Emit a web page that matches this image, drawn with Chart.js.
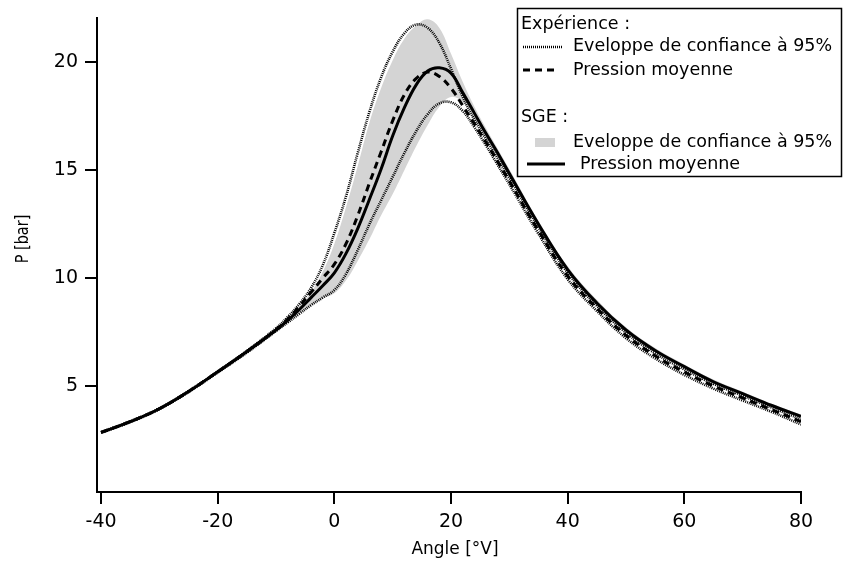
<!DOCTYPE html>
<html>
<head>
<meta charset="utf-8">
<script src="https://cdn.jsdelivr.net/npm/chart.js@4.4.1/dist/chart.umd.min.js"></script>
<style>
  html, body { margin: 0; padding: 0; background: #fff; }
  #wrap { width: 843px; height: 565px; }
</style>
</head>
<body>
<div id="wrap"><canvas id="chart" width="843" height="565"></canvas></div>
<script>
/* ---------- données ---------- */
const ANGLES = [-40, -35, -30, -25, -20, -15, -10, -8, -6, -4, -2, 0, 2, 4, 6, 8, 10, 12, 14, 16, 18,
                20, 22, 24, 26, 28, 30, 35, 40, 45, 50, 55, 60, 65, 70, 75, 80];

// SGE : pression moyenne (trait plein)
const SGE_MEAN  = [2.85, 3.35, 3.95, 4.75, 5.66, 6.6, 7.6, 8.05, 8.55, 9.1, 9.65, 10.25, 11.15, 12.3, 13.65, 15.05, 16.6, 17.9, 18.95, 19.6, 19.75,
                   19.5, 18.6, 17.65, 16.7, 15.8, 14.85, 12.5, 10.4, 8.85, 7.6, 6.65, 5.9, 5.2, 4.65, 4.1, 3.6];
// SGE : enveloppe de confiance (zone grise)
const SGE_UPPER = [2.9, 3.4, 4.0, 4.8, 5.72, 6.68, 7.7, 8.15, 8.7, 9.35, 10.3, 11.6, 13.3, 15.2, 17.2, 18.8, 20.1, 21.1, 21.7, 22.0, 21.6,
                   20.4, 19.1, 17.95, 16.95, 16.0, 15.05, 12.65, 10.55, 9.0, 7.72, 6.76, 6.0, 5.3, 4.74, 4.18, 3.68];
const SGE_LOWER = [2.8, 3.3, 3.9, 4.7, 5.6, 6.52, 7.5, 7.95, 8.35, 8.75, 9.05, 9.3, 9.9, 10.8, 11.8, 12.9, 13.9, 15.0, 16.1, 17.1, 17.95,
                   18.4, 18.15, 17.35, 16.5, 15.6, 14.65, 12.35, 10.25, 8.7, 7.48, 6.54, 5.8, 5.1, 4.56, 4.02, 3.52];
// Expérience : pression moyenne (tirets) et enveloppe (pointillés)
const EXP_MEAN  = [2.85, 3.35, 3.95, 4.75, 5.66, 6.6, 7.62, 8.1, 8.7, 9.35, 10.0, 10.65, 11.6, 12.9, 14.4, 15.85, 17.3, 18.5, 19.25, 19.55, 19.35,
                   18.8, 18.0, 17.15, 16.3, 15.4, 14.5, 12.2, 10.1, 8.6, 7.35, 6.4, 5.65, 5.0, 4.45, 3.9, 3.35];
const EXP_UPPER = [2.87, 3.37, 3.97, 4.77, 5.68, 6.63, 7.68, 8.2, 8.8, 9.55, 10.6, 12.1, 13.8, 15.8, 17.7, 19.3, 20.5, 21.35, 21.75, 21.6, 20.9,
                   19.7, 18.4, 17.35, 16.45, 15.55, 14.65, 12.35, 10.25, 8.72, 7.47, 6.52, 5.77, 5.1, 4.55, 4.0, 3.47];
const EXP_LOWER = [2.83, 3.33, 3.93, 4.72, 5.63, 6.55, 7.55, 7.95, 8.35, 8.75, 9.1, 9.45, 10.2, 11.3, 12.5, 13.6, 14.7, 15.8, 16.8, 17.6, 18.1,
                   18.15, 17.75, 17.0, 16.15, 15.25, 14.35, 12.05, 9.95, 8.48, 7.22, 6.28, 5.52, 4.88, 4.33, 3.8, 3.22];

const X_TICKS = [-40, -20, 0, 20, 40, 60, 80];
const Y_TICKS = [5, 10, 15, 20];

const X_TITLE = 'Angle [°V]';
const Y_TITLE = 'P [bar]';
const LEGEND_EXP = 'Expérience :';
const LEGEND_SGE = 'SGE :';
const LBL_ENV = 'Eveloppe de confiance à 95%';
const LBL_MEAN = 'Pression moyenne';

/* ---------- styles ---------- */
const FONT = "'DejaVu Sans', sans-serif";
const GREY = 'rgb(212,212,212)';
const DOT = [1, 1];
const DASH = [7, 5];

const pts = arr => ANGLES.map((a, i) => ({ x: a, y: arr[i] }));

function lineDs(label, arr, dash, width) {
  return {
    label, data: pts(arr),
    borderColor: '#000', borderWidth: width, borderDash: dash,
    pointRadius: 0, fill: false, tension: 0.4,
  };
}

/* ---------- titres d'axes + légende ---------- */
const decorations = {
  id: 'decorations',
  afterDraw(chart) {
    const { ctx } = chart;
    ctx.save();
    ctx.fillStyle = '#000';
    ctx.font = `17px ${FONT}`;
    ctx.textAlign = 'center';
    ctx.textBaseline = 'middle';
    ctx.fillText(X_TITLE, 455, 550);
    ctx.translate(24, 239);
    ctx.rotate(-Math.PI / 2);
    ctx.scale(0.85, 1);
    ctx.fillText(Y_TITLE, 0, 0);
    ctx.restore();

    // légende
    ctx.save();
    ctx.fillStyle = '#fff';
    ctx.fillRect(517.5, 8.5, 324, 168);
    ctx.strokeStyle = '#000';
    ctx.lineWidth = 1.5;
    ctx.strokeRect(517.5, 8.5, 324, 168);

    ctx.fillStyle = '#000';
    ctx.font = `17.5px ${FONT}`;
    ctx.textAlign = 'left';
    ctx.textBaseline = 'middle';
    ctx.fillText(LEGEND_EXP, 521, 24);
    ctx.fillText(LBL_ENV, 573, 46);
    ctx.fillText(LBL_MEAN, 573, 70);
    ctx.fillText(LEGEND_SGE, 521, 117);
    ctx.fillText(LBL_ENV, 573, 142);
    ctx.fillText(LBL_MEAN, 580, 164);

    ctx.strokeStyle = '#000';
    ctx.lineWidth = 2.6;
    ctx.setLineDash(DOT);
    ctx.beginPath(); ctx.moveTo(523, 47); ctx.lineTo(562, 47); ctx.stroke();
    ctx.lineWidth = 3;
    ctx.setLineDash(DASH);
    ctx.beginPath(); ctx.moveTo(523, 70); ctx.lineTo(558, 70); ctx.stroke();
    ctx.setLineDash([]);
    ctx.beginPath(); ctx.moveTo(527, 164); ctx.lineTo(565, 164); ctx.stroke();

    ctx.fillStyle = GREY;
    ctx.fillRect(535, 138, 20, 9);
    ctx.restore();
  }
};

new Chart(document.getElementById('chart'), {
  type: 'line',
  data: {
    datasets: [
      lineDs('SGE moyenne', SGE_MEAN, [], 3),
      lineDs('Exp moyenne', EXP_MEAN, DASH, 3),
      lineDs('Exp enveloppe haute', EXP_UPPER, DOT, 2.6),
      lineDs('Exp enveloppe basse', EXP_LOWER, DOT, 2.6),
      {
        label: 'SGE enveloppe haute', data: pts(SGE_UPPER),
        borderColor: 'rgba(0,0,0,0)', borderWidth: 0, backgroundColor: GREY,
        pointRadius: 0, fill: '+1', tension: 0.4,
      },
      {
        label: 'SGE enveloppe basse', data: pts(SGE_LOWER),
        borderColor: 'rgba(0,0,0,0)', borderWidth: 0,
        pointRadius: 0, fill: false, tension: 0.4,
      },
    ]
  },
  options: {
    responsive: false,
    animation: false,
    events: [],
    layout: { padding: { top: 18, right: 42, left: 0, bottom: 0 } },
    plugins: { legend: { display: false }, tooltip: { enabled: false } },
    scales: {
      x: {
        type: 'linear', min: -40.7, max: 80,
        afterBuildTicks: s => { s.ticks = X_TICKS.map(v => ({ value: v })); },
        afterFit: s => { s.height = 73; },
        grid: { drawOnChartArea: false, tickLength: 12, lineWidth: 2, tickWidth: 2, color: '#000', tickColor: '#000' },
        border: { color: '#000', width: 2 },
        ticks: { color: '#000', font: { family: FONT, size: 19 }, padding: 7, maxRotation: 0 },
      },
      y: {
        type: 'linear', min: 0.09, max: 22.04,
        afterBuildTicks: s => { s.ticks = Y_TICKS.map(v => ({ value: v })); },
        afterFit: s => { s.width = 97; },
        grid: { drawOnChartArea: false, tickLength: 12, lineWidth: 2, tickWidth: 2, color: '#000', tickColor: '#000' },
        border: { color: '#000', width: 2 },
        ticks: { color: '#000', font: { family: FONT, size: 19 }, padding: 7 },
      }
    }
  },
  plugins: [decorations]
});
</script>
</body>
</html>
